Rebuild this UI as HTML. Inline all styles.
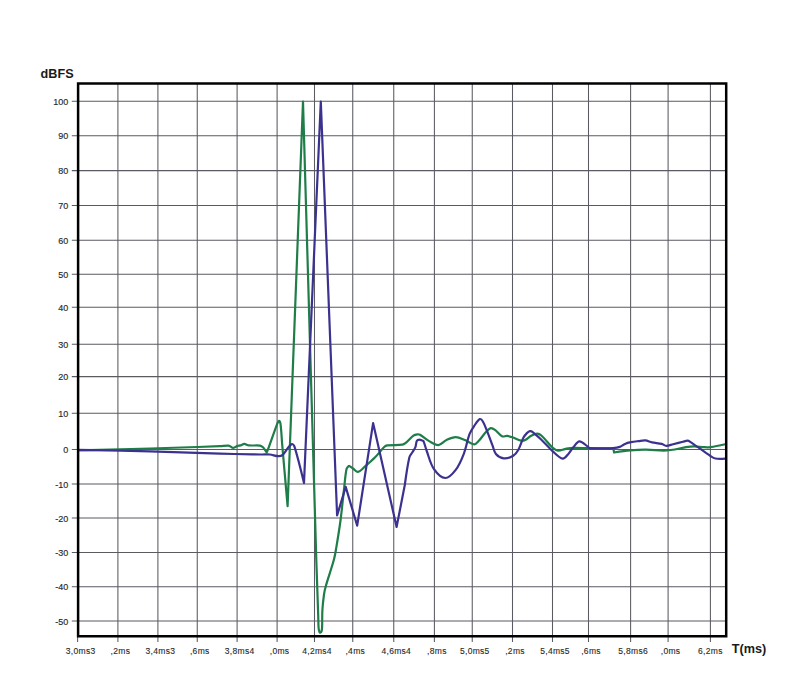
<!DOCTYPE html>
<html><head><meta charset="utf-8"><style>
html,body{margin:0;padding:0;background:#fff;width:800px;height:695px;overflow:hidden}
svg{display:block}
text{font-family:"Liberation Sans",sans-serif;fill:#2a2a2a}
.yl{font-size:9px;stroke:#2a2a2a;stroke-width:0.15px}
.xl{font-size:8.5px;letter-spacing:0.3px;stroke:#2a2a2a;stroke-width:0.12px}
.title{font-size:13.4px;font-weight:bold;fill:#1a1a1a}
</style></head><body>
<svg width="800" height="695" viewBox="0 0 800 695">
<line x1="117.9" y1="83.4" x2="117.9" y2="642.0999999999999" stroke="#5a5a62" stroke-width="1.05"/>
<line x1="157.9" y1="83.4" x2="157.9" y2="642.0999999999999" stroke="#5a5a62" stroke-width="1.05"/>
<line x1="197.25" y1="83.4" x2="197.25" y2="642.0999999999999" stroke="#5a5a62" stroke-width="1.05"/>
<line x1="237.1" y1="83.4" x2="237.1" y2="642.0999999999999" stroke="#5a5a62" stroke-width="1.05"/>
<line x1="277.1" y1="83.4" x2="277.1" y2="642.0999999999999" stroke="#5a5a62" stroke-width="1.05"/>
<line x1="314.5" y1="83.4" x2="314.5" y2="642.0999999999999" stroke="#5a5a62" stroke-width="1.05"/>
<line x1="352.75" y1="83.4" x2="352.75" y2="642.0999999999999" stroke="#5a5a62" stroke-width="1.05"/>
<line x1="393.75" y1="83.4" x2="393.75" y2="642.0999999999999" stroke="#5a5a62" stroke-width="1.05"/>
<line x1="434.4" y1="83.4" x2="434.4" y2="642.0999999999999" stroke="#5a5a62" stroke-width="1.05"/>
<line x1="472.25" y1="83.4" x2="472.25" y2="642.0999999999999" stroke="#5a5a62" stroke-width="1.05"/>
<line x1="512.5" y1="83.4" x2="512.5" y2="642.0999999999999" stroke="#5a5a62" stroke-width="1.05"/>
<line x1="552.5" y1="83.4" x2="552.5" y2="642.0999999999999" stroke="#5a5a62" stroke-width="1.05"/>
<line x1="588.5" y1="83.4" x2="588.5" y2="642.0999999999999" stroke="#5a5a62" stroke-width="1.05"/>
<line x1="630.6" y1="83.4" x2="630.6" y2="642.0999999999999" stroke="#5a5a62" stroke-width="1.05"/>
<line x1="668.1" y1="83.4" x2="668.1" y2="642.0999999999999" stroke="#5a5a62" stroke-width="1.05"/>
<line x1="710.4" y1="83.4" x2="710.4" y2="642.0999999999999" stroke="#5a5a62" stroke-width="1.05"/>
<line x1="71.8" y1="101.3" x2="726.2" y2="101.3" stroke="#5a5a62" stroke-width="1.05"/>
<text x="68.3" y="104.80" text-anchor="end" class="yl">100</text>
<line x1="71.8" y1="135.8" x2="726.2" y2="135.8" stroke="#5a5a62" stroke-width="1.05"/>
<text x="68.3" y="139.30" text-anchor="end" class="yl">90</text>
<line x1="71.8" y1="170.6" x2="726.2" y2="170.6" stroke="#5a5a62" stroke-width="1.05"/>
<text x="68.3" y="174.10" text-anchor="end" class="yl">80</text>
<line x1="71.8" y1="205.5" x2="726.2" y2="205.5" stroke="#5a5a62" stroke-width="1.05"/>
<text x="68.3" y="209.00" text-anchor="end" class="yl">70</text>
<line x1="71.8" y1="240.3" x2="726.2" y2="240.3" stroke="#5a5a62" stroke-width="1.05"/>
<text x="68.3" y="243.80" text-anchor="end" class="yl">60</text>
<line x1="71.8" y1="274.3" x2="726.2" y2="274.3" stroke="#5a5a62" stroke-width="1.05"/>
<text x="68.3" y="277.80" text-anchor="end" class="yl">50</text>
<line x1="71.8" y1="307.2" x2="726.2" y2="307.2" stroke="#5a5a62" stroke-width="1.05"/>
<text x="68.3" y="310.70" text-anchor="end" class="yl">40</text>
<line x1="71.8" y1="344.3" x2="726.2" y2="344.3" stroke="#5a5a62" stroke-width="1.05"/>
<text x="68.3" y="347.80" text-anchor="end" class="yl">30</text>
<line x1="71.8" y1="376.6" x2="726.2" y2="376.6" stroke="#5a5a62" stroke-width="1.05"/>
<text x="68.3" y="380.10" text-anchor="end" class="yl">20</text>
<line x1="71.8" y1="413.2" x2="726.2" y2="413.2" stroke="#5a5a62" stroke-width="1.05"/>
<text x="68.3" y="416.70" text-anchor="end" class="yl">10</text>
<line x1="71.8" y1="449.5" x2="726.2" y2="449.5" stroke="#5a5a62" stroke-width="1.05"/>
<text x="68.3" y="453.00" text-anchor="end" class="yl">0</text>
<line x1="71.8" y1="484.0" x2="726.2" y2="484.0" stroke="#5a5a62" stroke-width="1.05"/>
<text x="68.3" y="487.50" text-anchor="end" class="yl">-10</text>
<line x1="71.8" y1="518.0" x2="726.2" y2="518.0" stroke="#5a5a62" stroke-width="1.05"/>
<text x="68.3" y="521.50" text-anchor="end" class="yl">-20</text>
<line x1="71.8" y1="552.5" x2="726.2" y2="552.5" stroke="#5a5a62" stroke-width="1.05"/>
<text x="68.3" y="556.00" text-anchor="end" class="yl">-30</text>
<line x1="71.8" y1="586.8" x2="726.2" y2="586.8" stroke="#5a5a62" stroke-width="1.05"/>
<text x="68.3" y="590.30" text-anchor="end" class="yl">-40</text>
<line x1="71.8" y1="621.0" x2="726.2" y2="621.0" stroke="#5a5a62" stroke-width="1.05"/>
<text x="68.3" y="624.50" text-anchor="end" class="yl">-50</text>
<line x1="77.6" y1="636.3" x2="77.6" y2="642.0999999999999" stroke="#5a5a62" stroke-width="1.05"/>
<text x="65.80" y="653.8" class="xl">3,0ms3</text>
<text x="110.60" y="653.8" class="xl">,2ms</text>
<text x="145.60" y="653.8" class="xl">3,4ms3</text>
<text x="189.95" y="653.8" class="xl">,6ms</text>
<text x="224.80" y="653.8" class="xl">3,8ms4</text>
<text x="269.80" y="653.8" class="xl">,0ms</text>
<text x="302.20" y="653.8" class="xl">4,2ms4</text>
<text x="345.45" y="653.8" class="xl">,4ms</text>
<text x="381.45" y="653.8" class="xl">4,6ms4</text>
<text x="427.10" y="653.8" class="xl">,8ms</text>
<text x="459.95" y="653.8" class="xl">5,0ms5</text>
<text x="505.20" y="653.8" class="xl">,2ms</text>
<text x="540.20" y="653.8" class="xl">5,4ms5</text>
<text x="581.20" y="653.8" class="xl">,6ms</text>
<text x="618.30" y="653.8" class="xl">5,8ms6</text>
<text x="660.80" y="653.8" class="xl">,0ms</text>
<text x="698.10" y="653.8" class="xl">6,2ms</text>
<path fill="none" stroke="#1f7d48" stroke-width="2.2" stroke-linejoin="round" stroke-linecap="round" d="M78.10 450.40 C78.10 450.40 126.04 449.21 150.00 448.50 C173.34 447.81 196.67 447.06 220.00 446.20 C222.84 446.10 225.73 445.45 228.50 445.60 C229.40 445.65 230.18 446.38 231.00 446.80 C231.68 447.15 232.31 447.87 233.00 447.90 C233.81 447.94 234.69 447.36 235.50 447.00 C236.19 446.69 236.79 446.13 237.50 445.90 C238.45 445.60 239.53 445.68 240.50 445.40 C241.80 445.02 243.02 443.90 244.30 443.90 C245.79 443.90 247.24 445.23 248.80 445.40 C252.48 445.80 256.38 445.12 260.00 445.60 C261.11 445.75 262.20 446.51 263.00 447.30 C264.46 448.74 266.56 452.70 266.80 452.30 C267.99 450.33 273.64 433.09 277.30 423.60 C277.68 422.63 278.38 420.87 278.90 420.90 C279.45 420.93 280.35 422.72 280.50 423.80 C281.45 430.62 281.60 437.67 282.20 444.60 C283.97 465.14 287.60 506.20 287.60 506.20 C287.60 506.20 303.00 101.50 303.00 101.50 C303.00 101.50 311.78 407.17 316.30 560.00 C316.84 578.34 317.58 596.67 318.20 615.00 C318.35 619.33 318.29 623.69 318.60 628.00 C318.69 629.29 318.95 630.65 319.40 631.80 C319.55 632.18 320.08 632.65 320.40 632.60 C320.78 632.55 321.36 631.98 321.50 631.50 C321.92 630.11 322.04 628.51 322.10 627.00 C322.34 621.34 322.07 615.65 322.40 610.00 C322.70 604.82 323.28 599.64 324.00 594.50 C324.38 591.80 324.96 589.12 325.70 586.50 C328.22 577.62 331.37 568.90 333.80 560.00 C334.87 556.10 335.52 552.09 336.20 548.10 C337.76 538.92 339.27 529.73 340.50 520.50 C341.87 510.19 342.78 499.83 344.00 489.50 C344.81 482.59 345.16 475.45 346.60 468.80 C346.86 467.58 348.81 465.91 349.10 465.90 C349.45 465.88 351.70 467.63 353.00 468.50 C354.67 469.63 356.38 472.18 358.00 471.90 C360.41 471.48 362.82 468.34 365.10 466.40 C368.52 463.48 371.94 460.51 375.10 457.30 C378.31 454.04 380.97 450.18 384.20 447.00 C385.00 446.21 386.09 445.54 387.20 445.40 C392.13 444.77 397.36 445.30 402.30 444.70 C403.43 444.56 404.52 443.92 405.40 443.20 C408.22 440.89 410.50 437.75 413.40 435.60 C414.50 434.78 416.05 434.46 417.40 434.30 C418.25 434.20 419.25 434.37 420.00 434.80 C423.18 436.63 425.97 439.29 429.20 441.10 C432.10 442.73 435.45 445.29 438.40 445.10 C441.22 444.92 443.63 441.33 446.50 440.00 C449.39 438.66 452.63 437.10 455.70 437.10 C458.77 437.10 461.92 438.82 464.90 440.00 C468.08 441.26 471.22 444.16 474.20 444.40 C475.79 444.53 477.35 442.42 478.60 441.10 C481.11 438.45 483.01 435.18 485.50 432.50 C487.04 430.85 488.82 428.61 490.70 428.10 C491.99 427.75 493.76 429.00 495.00 429.90 C497.53 431.73 499.38 435.00 502.00 436.30 C503.41 437.00 505.42 435.75 507.10 435.90 C508.86 436.05 510.61 436.62 512.30 437.20 C515.25 438.22 518.04 440.06 521.00 440.70 C522.34 440.99 523.96 440.61 525.20 440.00 C527.36 438.94 529.05 436.84 531.20 435.70 C533.08 434.71 535.31 433.60 537.30 433.60 C538.78 433.60 540.44 434.64 541.60 435.70 C545.60 439.37 548.78 444.14 552.80 447.80 C554.24 449.11 556.16 450.40 558.00 450.60 C560.20 450.84 562.60 449.59 564.90 449.10 C566.63 448.73 568.34 448.06 570.10 448.00 C576.70 447.76 583.37 448.15 590.00 448.20 C597.77 448.25 613.30 448.30 613.30 448.30 C613.30 448.30 614.10 452.50 614.10 452.50 C614.10 452.50 624.88 450.88 630.30 450.40 C635.51 449.94 640.77 449.67 646.00 449.70 C652.00 449.74 658.01 450.64 664.00 450.60 C667.61 450.57 671.23 450.07 674.80 449.50 C678.60 448.90 682.30 447.70 686.10 447.10 C688.80 446.67 691.57 446.38 694.30 446.40 C697.53 446.42 700.76 447.06 704.00 447.20 C706.16 447.29 708.36 447.40 710.50 447.10 C715.43 446.40 725.20 444.20 725.20 444.20"/>
<path fill="none" stroke="#3b3290" stroke-width="2.2" stroke-linejoin="round" stroke-linecap="round" d="M78.10 449.80 C78.10 449.80 126.04 450.76 150.00 451.40 C173.34 452.02 196.67 452.92 220.00 453.60 C230.83 453.92 241.67 454.17 252.50 454.40 C255.67 454.47 258.83 454.48 262.00 454.50 C264.60 454.52 267.23 454.23 269.80 454.50 C272.69 454.80 275.56 456.11 278.40 456.20 C279.86 456.25 281.62 455.84 282.70 454.90 C284.78 453.10 286.05 450.20 287.90 448.00 C289.08 446.60 290.46 444.45 291.80 444.10 C292.63 443.88 294.06 445.23 294.40 446.30 C298.13 458.17 304.00 482.90 304.00 482.90 C304.00 482.90 320.80 101.50 320.80 101.50 C320.80 101.50 337.10 515.50 337.10 515.50 C337.10 515.50 345.70 486.90 345.70 486.90 C345.70 486.90 357.20 525.70 357.20 525.70 C357.20 525.70 373.10 423.10 373.10 423.10 C373.10 423.10 396.60 527.00 396.60 527.00 C396.60 527.00 404.80 485.00 404.80 485.00 C404.80 485.00 407.30 466.33 409.40 457.30 C409.84 455.43 411.41 453.97 412.40 452.30 C413.41 450.60 414.69 449.02 415.40 447.20 C416.19 445.15 415.94 442.46 416.90 440.70 C417.30 439.96 418.63 439.70 419.50 439.70 C420.49 439.70 421.51 440.35 422.50 440.70 C422.84 440.82 423.37 440.78 423.50 441.10 C424.84 444.38 425.63 448.08 426.90 451.50 C429.06 457.32 430.37 463.87 433.80 468.80 C436.51 472.70 441.45 477.81 445.30 478.00 C448.75 478.17 453.09 473.31 455.70 469.90 C459.26 465.24 461.64 459.38 463.80 453.80 C466.24 447.48 467.14 440.54 469.50 434.20 C470.58 431.31 472.35 428.65 474.10 426.10 C475.81 423.61 477.85 420.11 479.90 419.10 C480.81 418.65 482.33 420.56 483.00 421.70 C484.79 424.73 485.96 428.26 487.30 431.60 C489.13 436.16 490.74 440.81 492.50 445.40 C493.60 448.28 494.00 451.80 495.90 454.00 C497.74 456.13 500.95 458.11 503.70 458.40 C506.72 458.71 510.50 457.40 513.20 455.80 C515.40 454.50 517.10 452.00 518.40 449.70 C520.53 445.93 521.52 441.47 523.50 437.60 C524.35 435.94 525.59 434.41 526.90 433.10 C527.72 432.28 528.84 431.34 529.90 431.20 C530.88 431.07 532.14 431.65 533.00 432.30 C536.04 434.58 538.82 437.34 541.60 440.00 C545.42 443.67 548.83 447.80 552.80 451.30 C555.87 454.00 559.45 458.06 562.70 458.60 C564.65 458.93 566.73 455.68 568.40 453.90 C570.26 451.92 571.50 449.36 573.30 447.30 C575.17 445.16 577.17 441.36 579.40 441.30 C582.10 441.23 585.25 444.96 588.10 446.90 C588.59 447.23 588.83 448.04 589.40 448.10 C593.23 448.54 597.33 448.40 601.30 448.40 C605.23 448.40 609.19 448.42 613.10 448.10 C615.34 447.92 617.66 447.64 619.75 446.90 C621.62 446.24 623.15 444.67 625.00 443.90 C626.90 443.10 628.97 442.62 631.00 442.20 C633.47 441.69 635.99 441.42 638.50 441.10 C640.76 440.82 643.08 440.19 645.30 440.40 C647.58 440.62 649.73 441.92 652.00 442.40 C655.23 443.08 658.62 443.12 661.80 443.90 C663.38 444.29 664.75 445.86 666.30 445.90 C668.51 445.96 670.83 444.76 673.10 444.20 C676.37 443.39 679.63 442.60 682.90 441.80 C684.40 441.43 685.92 440.70 687.40 440.70 C688.36 440.70 689.37 441.25 690.20 441.80 C697.07 446.35 703.63 451.44 710.50 456.00 C712.03 457.01 713.64 458.19 715.40 458.50 C718.54 459.06 725.20 458.60 725.20 458.60"/>
<path d="M78.1 83.4 H726.2 V636.3 H78.1 Z" fill="none" stroke="#000" stroke-width="2.5"/>
<text x="40.6" y="77.7" class="title" textLength="33" lengthAdjust="spacingAndGlyphs">dBFS</text>
<text x="731.8" y="652.8" class="title" textLength="34.5" lengthAdjust="spacingAndGlyphs">T(ms)</text>
</svg></body></html>
